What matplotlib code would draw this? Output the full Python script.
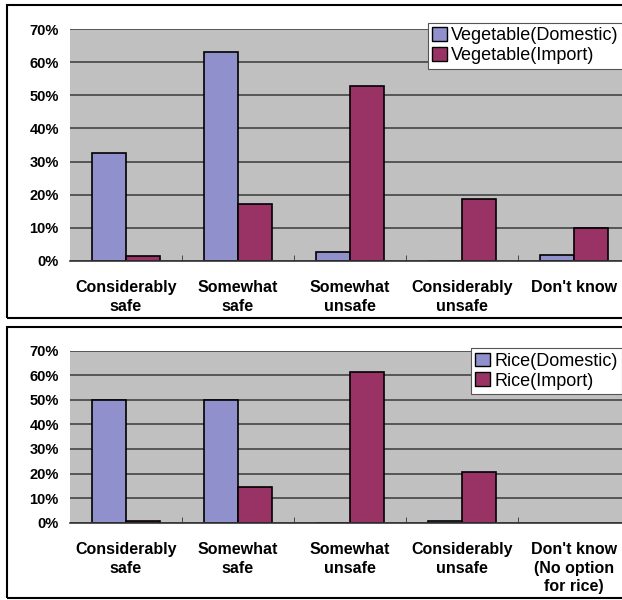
import numpy as np
import matplotlib.pyplot as plt
from matplotlib.patches import Rectangle, Patch

# categories and shares (%)
veg_categories = ["Considerably\nsafe", "Somewhat\nsafe", "Somewhat\nunsafe",
                  "Considerably\nunsafe", "Don't know"]
rice_categories = ["Considerably\nsafe", "Somewhat\nsafe", "Somewhat\nunsafe",
                   "Considerably\nunsafe", "Don't know\n(No option\nfor rice)"]

veg_domestic = [32.5, 63.0, 2.7, 0.0, 1.6]
veg_import = [1.5, 17.2, 52.7, 18.8, 9.8]
rice_domestic = [50.0, 50.0, 0.0, 0.8, np.nan]
rice_import = [0.8, 14.7, 61.5, 20.8, np.nan]

yticks = [0, 10, 20, 30, 40, 50, 60, 70]

c_dom = "#8F90CC"
c_imp = "#993366"
plot_bg = "#C0C0C0"
plt.rcParams['font.family'] = ['Liberation Sans', 'DejaVu Sans']

fig = plt.figure(figsize=(6.22, 6.0), dpi=100)

# outer chart-area borders (run off the right edge like the original)
fig.patches.append(Rectangle((0.0113, 0.470), 1.1, 0.5217, transform=fig.transFigure,
                             fill=False, edgecolor="black", linewidth=1.5))
fig.patches.append(Rectangle((0.0113, 0.0033), 1.1, 0.4517, transform=fig.transFigure,
                             fill=False, edgecolor="black", linewidth=1.5))


def draw_panel(ax, cats, dom, imp, lab_dom, lab_imp, leg_xy):
    x = np.arange(len(cats))
    w = 0.3
    ax.set_facecolor(plot_bg)
    ax.bar(x - w / 2, dom, w, color=c_dom, edgecolor="black", linewidth=1.2, zorder=3)
    ax.bar(x + w / 2, imp, w, color=c_imp, edgecolor="black", linewidth=1.2, zorder=3)
    ax.set_xlim(-0.5, len(cats) - 0.5)
    ax.set_ylim(0, 70)
    ax.set_yticks(yticks)
    ax.set_yticklabels([f"{v}%" for v in yticks], fontsize=10.5, fontweight="bold")
    ax.set_xticks(x)
    ax.set_xticklabels(cats, fontsize=11.5, fontweight="bold", linespacing=1.3)
    ax.set_xticks(np.arange(0.5, len(cats) - 1, 1.0), minor=True)
    ax.tick_params(axis="x", which="major", length=0, pad=14)
    ax.tick_params(axis="x", which="minor", length=4, direction="in", color="#333333")
    ax.tick_params(axis="y", length=0, pad=8)
    ax.grid(axis="y", color="#444444", linewidth=1.2, zorder=1)
    for s in ["left", "right", "top"]:
        ax.spines[s].set_visible(False)
    ax.spines["bottom"].set_color("#333333")
    ax.spines["bottom"].set_linewidth(1.2)
    ax.spines["bottom"].set_zorder(4)
    handles = [Patch(facecolor=c_dom, edgecolor="black", label=lab_dom),
               Patch(facecolor=c_imp, edgecolor="black", label=lab_imp)]
    leg = fig.legend(handles=handles, loc="upper left", bbox_to_anchor=leg_xy,
                     bbox_transform=fig.transFigure, fontsize=13, frameon=True,
                     fancybox=False, framealpha=1, edgecolor="#555555",
                     handlelength=0.8, handleheight=0.8, handletextpad=0.25,
                     borderpad=0.25, labelspacing=0.15, borderaxespad=0)
    leg.get_frame().set_linewidth(0.8)


ax1 = fig.add_axes([0.1125, 0.5655, 0.9003, 0.3857])
draw_panel(ax1, veg_categories, veg_domestic, veg_import,
           "Vegetable(Domestic)", "Vegetable(Import)", (0.688, 0.962))

ax2 = fig.add_axes([0.1125, 0.1288, 0.9003, 0.2867])
draw_panel(ax2, rice_categories, rice_domestic, rice_import,
           "Rice(Domestic)", "Rice(Import)", (0.757, 0.42))

fig.savefig("out.png", dpi=100)
